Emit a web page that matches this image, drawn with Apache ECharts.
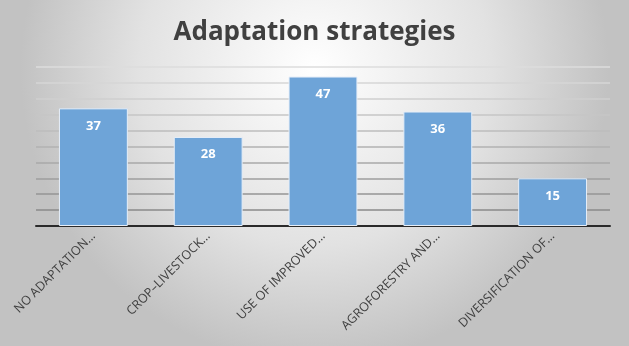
<!DOCTYPE html>
<html><head><meta charset="utf-8">
<script src="https://cdn.jsdelivr.net/npm/echarts@6/dist/echarts.min.js"></script>
<style>html,body{margin:0;padding:0;background:#fff}#c{width:629px;height:346px}</style>
</head><body><div id="c"></div>
<script>
const categories = ["NO ADAPTATION…", "CROP–LIVESTOCK…", "USE OF IMPROVED…", "AGROFORESTRY AND…", "DIVERSIFICATION OF…"];
const values = [37, 28, 47, 36, 15];
const titleText = "Adaptation strategies";

const chart = echarts.init(document.getElementById('c'), null, {renderer: 'canvas'});
chart.setOption({
  backgroundColor: {
    type: 'radial', x: 0.5, y: 0.2, r: 0.85,
    colorStops: [{offset: 0, color: '#ffffff'}, {offset: 0.6, color: '#e2e2e2'}, {offset: 1, color: '#c2c2c2'}]
  },
  title: {
    text: titleText, left: 'center', top: 15,
    textStyle: {fontFamily: 'Open Sans', fontWeight: 'bold', fontSize: 26, color: '#404040'}
  },
  grid: {left: 36, right: 19, top: 67, bottom: 120},
  xAxis: {
    type: 'category', data: categories,
    axisLine: {lineStyle: {color: '#2a2a2a', width: 2}},
    axisTick: {show: false},
    axisLabel: {rotate: 45, interval: 0, color: '#404040', fontFamily: 'Open Sans', fontSize: 12.5, margin: 8}
  },
  yAxis: {
    type: 'value', min: 0, max: 50, interval: 5,
    axisLabel: {show: false}, axisLine: {show: false}, axisTick: {show: false},
    splitLine: {lineStyle: {width: 1.5, color: ['#2a2a2a', '#8a8a8a', '#959595', '#9e9e9e', '#a8a8a8', '#b2b2b2', '#bcbcbc', '#c6c6c6', '#cfcfcf', '#d6d6d6', '#dcdcdc']}}
  },
  series: [{
    type: 'bar', data: values, barCategoryGap: '40%',
    itemStyle: {color: '#6ea4d8', borderColor: '#e6eef8', borderWidth: 1},
    label: {show: true, position: 'insideTop', distance: 11, color: '#ffffff', fontFamily: 'Open Sans', fontWeight: 'bold', fontSize: 13}
  }]
});
</script></body></html>
